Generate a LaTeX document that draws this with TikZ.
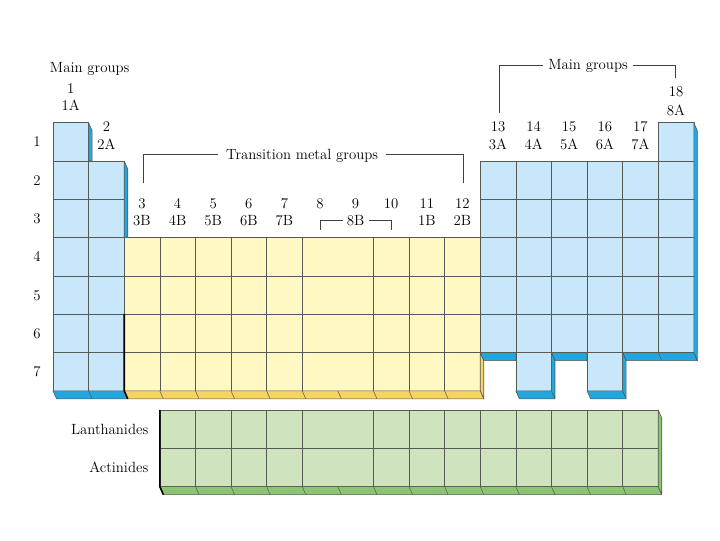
\documentclass[tikz,border=0pt]{standalone}
\usepackage{fontspec}
\usepackage{tikz}
\usetikzlibrary{calc}
\definecolor{mgblue}{RGB}{200,231,250}
\definecolor{mgdark}{RGB}{35,165,222}
\definecolor{tmyel}{RGB}{255,248,194}
\definecolor{tmdark}{RGB}{247,212,98}
\definecolor{ingrn}{RGB}{207,228,190}
\definecolor{indark}{RGB}{140,196,116}
\definecolor{cellln}{RGB}{85,90,85}
\tikzset{
  cell/.style={draw=cellln,line width=0.5pt},
  edge/.style={draw=cellln,line width=0.6pt,line join=round},
  lbl/.style={inner sep=0pt,text height=10pt,text depth=0pt},
  brace/.style={draw=black!75,line width=0.6pt}
}
\def\ddx{0.1}
\def\ddy{0.21}

\begin{document}
\begin{tikzpicture}[x=35.6pt,y=-38.3pt,font=\fontsize{14.8}{17}\selectfont]
\path[use as bounding box](-1.4888,-3.2037)rectangle(18.7360,10.8956);

\fill[mgblue](0,0)--(1,0)--(1,1)--(2,1)--(2,7)--(0,7)--cycle;
\fill[mgblue](12,1)--(17,1)--(17,0)--(18,0)--(18,6)--(16,6)--(16,7)--(15,7)--(15,6)--(14,6)--(14,7)--(13,7)--(13,6)--(12,6)--cycle;
\fill[tmyel](2,3)rectangle(12,7);
\fill[ingrn](3,7.5)rectangle(17,9.5);

\foreach \y in {1,...,6}\draw[cell](0,\y)--(2,\y);
\draw[cell](1,0)--(1,7);
\foreach \y in {4,5,6}\draw[cell](2,\y)--(12,\y);
\foreach \x in {3,4,5,6,7,9,10,11}\draw[cell](\x,3)--(\x,7);
\foreach \y in {2,...,5}\draw[cell](12,\y)--(18,\y);
\draw[cell](17,1)--(18,1) (13,6)--(14,6) (15,6)--(16,6);
\foreach \x in {13,...,17}\draw[cell](\x,1)--(\x,6);
\draw[cell](3,8.5)--(17,8.5);
\foreach \x in {4,5,6,7,9,10,11,12,13,14,15,16}\draw[cell](\x,7.5)--(\x,9.5);

\draw[edge](0,0)--(1,0)--(1,1)--(2,1)--(2,7)--(0,7)--cycle;
\draw[edge](12,1)--(17,1)--(17,0)--(18,0)--(18,6)--(16,6)--(16,7)--(15,7)--(15,6)--(14,6)--(14,7)--(13,7)--(13,6)--(12,6)--cycle;
\draw[edge](2,3)rectangle(12,7);
\draw[edge](3,7.5)rectangle(17,9.5);

\filldraw[edge,fill=mgdark](1,0)--++(\ddx,\ddy)--(1+\ddx,1)--(1,1)--cycle;
\filldraw[edge,fill=mgdark](2,1)--++(\ddx,\ddy)--(2+\ddx,3)--(2,3)--cycle;
\filldraw[edge,fill=mgdark](0,7)--(2,7)--++(\ddx,\ddy)--(\ddx,7+\ddy)--cycle;
\filldraw[edge,fill=tmdark](12,6)--++(\ddx,\ddy)--(12+\ddx,7+\ddy)--(12,7)--cycle;
\filldraw[edge,fill=tmdark](2,7)--(12,7)--++(\ddx,\ddy)--(2+\ddx,7+\ddy)--cycle;
\filldraw[edge,fill=mgdark](12,6)--(13,6)--(13,6+\ddy)--(12+\ddx,6+\ddy)--cycle;
\filldraw[edge,fill=mgdark](14,6)--(15,6)--(15,6+\ddy)--(14+\ddx,6+\ddy)--cycle;
\filldraw[edge,fill=mgdark](16,6)--(18,6)--++(\ddx,\ddy)--(16+\ddx,6+\ddy)--cycle;
\filldraw[edge,fill=mgdark](18,0)--++(\ddx,\ddy)--(18+\ddx,6+\ddy)--(18,6)--cycle;
\foreach \x in {14,16}\filldraw[edge,fill=mgdark](\x-1,7)--(\x,7)--++(\ddx,\ddy)--(\x-1+\ddx,7+\ddy)--cycle
  (\x,6)--++(\ddx,\ddy)--(\x+\ddx,7+\ddy)--(\x,7)--cycle;
\filldraw[edge,fill=indark](3,9.5)--(17,9.5)--++(\ddx,\ddy)--(3+\ddx,9.5+\ddy)--cycle;
\filldraw[edge,fill=indark](17,7.5)--++(\ddx,\ddy)--(17+\ddx,9.5+\ddy)--(17,9.5)--cycle;

\foreach \x in {1,3,4,...,11}\draw[cell](\x,7)--++(\ddx,\ddy);
\draw[cell](17,6)--++(\ddx,\ddy);
\foreach \x in {4,...,16}\draw[cell](\x,9.5)--++(\ddx,\ddy);
\draw[line width=1.6pt](2,5)--(2,7)--++(\ddx,\ddy);
\draw[line width=1.6pt](3,7.5)--(3,9.5)--++(\ddx,\ddy);

\foreach \r in {1,...,7}\node[lbl](r\r) at (-0.45,\r-0.5){\r};
\foreach \g/\t in {1/0,2/1,3/3,4/3,5/3,6/3,7/3,8/3,9/3,10/3,11/3,12/3,13/1,14/1,15/1,16/1,17/1}
  \node[lbl](g\g) at (\g-0.5,\t-0.9){\g};
\foreach \g/\s/\t in {1/1A/0,2/2A/1,3/3B/3,4/4B/3,5/5B/3,6/6B/3,7/7B/3,11/1B/3,12/2B/3,13/3A/1,14/4A/1,15/5A/1,16/6A/1,17/7A/1}
  \node[lbl](s\g) at (\g-0.5,\t-0.44){\s};
\node[lbl](g18) at (17.5,-0.82){18};
\node[lbl](s18) at (17.5,-0.31){8A};
\node[lbl,inner xsep=4pt](s9) at (8.5,2.56){8B};
\draw[brace](7.5,2.8)|-(s9.west) (s9.east)-|(9.5,2.8);

\node[lbl](mgl) at (1.03,-1.43){Main groups};
\node[lbl,inner xsep=5pt](mgr) at (15.03,-1.51){Main groups};
\draw[brace](12.53,-0.25)|-(mgr.west) (mgr.east)-|(17.47,-1.17);
\node[lbl,inner xsep=8pt](tmg) at (7,0.82){Transition metal groups};
\draw[brace](2.53,1.57)|-(tmg.west) (tmg.east)-|(11.52,1.57);

\node[lbl,anchor=east](lan) at (2.68,8){Lanthanides};
\node[lbl,anchor=east](act) at (2.68,9){Actinides};
\end{tikzpicture}
\end{document}
